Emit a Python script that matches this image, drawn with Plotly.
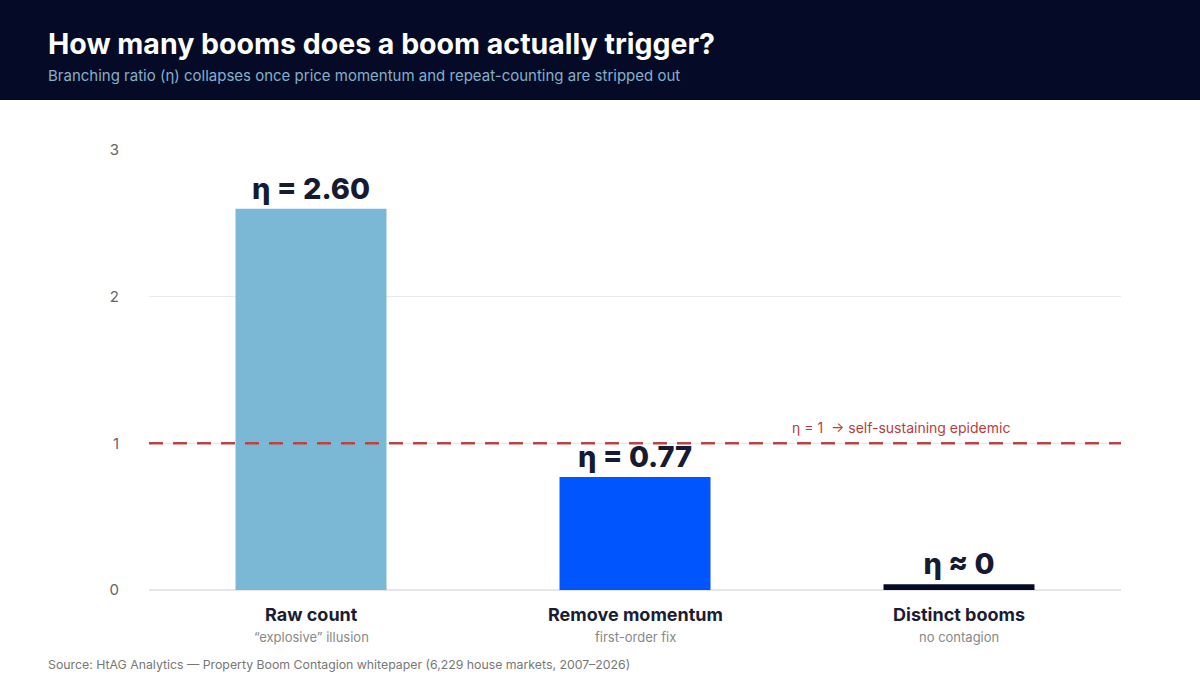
import plotly.graph_objects as go

categories = ["Raw count", "Remove momentum", "Distinct booms"]
subtitles = ["\u201cexplosive\u201d illusion", "first-order fix", "no contagion"]
eta_values = [2.60, 0.77, 0.04]
value_labels = ["\u03b7 = 2.60", "\u03b7 = 0.77", "\u03b7 \u2248 0"]
bar_colors = ["#7ab8d6", "#0055ff", "#050b26"]
threshold = 1
threshold_label = "\u03b7 = 1  \u2192 self-sustaining epidemic"
y_ticks = [0, 1, 2, 3]

W, H = 1200, 680
L, R, T, B = 149, 79, 150, 90
pw, ph = W - L - R, H - T - B

def px_x(p):
    return (p - L) / pw

def px_y(p):
    return 1 - (p - T) / ph

FONT = "Inter, 'Noto Sans', sans-serif"

fig = go.Figure()
fig.add_trace(go.Bar(
    x=categories, y=eta_values,
    marker=dict(color=bar_colors, line=dict(width=0)),
    text=value_labels, textposition="outside", cliponaxis=False,
    textfont=dict(size=29, color="#161a33", family=FONT, weight=800),
    width=0.466,
))

fig.add_shape(type="line", xref="paper", yref="y", x0=0, x1=1, y0=threshold, y1=threshold,
              line=dict(color="#bb4444", width=2.5, dash="14px,10px"))
fig.add_annotation(xref="paper", yref="y", x=px_x(901), y=threshold, yshift=16,
                   xanchor="center", text=threshold_label, showarrow=False,
                   font=dict(size=14, color="#b83c3c", family=FONT))

# header band
fig.add_shape(type="rect", xref="paper", yref="paper", layer="below",
              x0=px_x(0), x1=px_x(W), y0=px_y(100), y1=px_y(0),
              fillcolor="#050b26", line=dict(width=0))
fig.add_annotation(xref="paper", yref="paper", x=px_x(46), y=px_y(43),
                   xanchor="left", yanchor="middle", showarrow=False,
                   text="<b>How many booms does a boom actually trigger?</b>",
                   font=dict(size=28.5, color="white", family=FONT))
fig.add_annotation(xref="paper", yref="paper", x=px_x(46), y=px_y(75),
                   xanchor="left", yanchor="middle", showarrow=False,
                   text="Branching ratio (\u03b7) collapses once price momentum and repeat-counting are stripped out",
                   font=dict(size=15, color="#86afc9", family=FONT))

for c, s in zip(categories, subtitles):
    fig.add_annotation(xref="x", yref="paper", x=c, y=px_y(614), yanchor="middle",
                       showarrow=False, text=f"<b>{c}</b>",
                       font=dict(size=18, color="#1b1d33", family=FONT))
    fig.add_annotation(xref="x", yref="paper", x=c, y=px_y(637), yanchor="middle",
                       showarrow=False, text=s,
                       font=dict(size=13, color="#888888", family=FONT))

fig.add_annotation(xref="paper", yref="paper", x=px_x(46), y=px_y(664),
                   xanchor="left", yanchor="middle", showarrow=False,
                   text="Source: HtAG Analytics \u2014 Property Boom Contagion whitepaper (6,229 house markets, 2007\u20132026)",
                   font=dict(size=12.3, color="#777777", family=FONT))

fig.update_layout(
    width=W, height=H,
    margin=dict(l=L, r=R, t=T, b=B, pad=0),
    paper_bgcolor="white", plot_bgcolor="white",
    showlegend=False,
    font=dict(family=FONT),
    bargap=0.534,
    xaxis=dict(showticklabels=False, showgrid=False, zeroline=False, showline=False, fixedrange=True),
    yaxis=dict(range=[0, 3], tickvals=y_ticks, showgrid=True, gridcolor="#e9e9ee", gridwidth=1,
               zeroline=True, zerolinecolor="#e6e6ea", zerolinewidth=1.5, showline=False,
               tickfont=dict(size=15, color="#666666", family=FONT),
               ticklabelstandoff=29),
)

fig.write_html("out.html")
